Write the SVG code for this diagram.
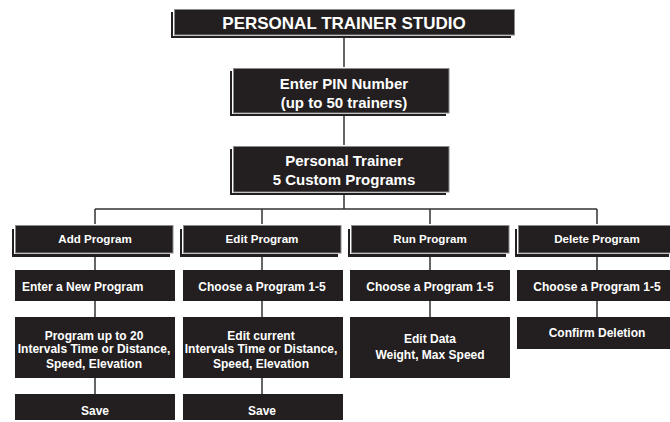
<svg xmlns="http://www.w3.org/2000/svg" width="670" height="422" viewBox="0 0 670 422">
<style>
.bx{fill:#231f20}
.fr{fill:#231f20;stroke:#8a8a8a;stroke-width:1}
.gap{fill:#ffffff}
.sh{fill:#231f20}
text{font-family:"Liberation Sans",Arial,sans-serif;font-weight:bold;fill:#ffffff;text-anchor:middle}
.t17{font-size:17px}
.t15{font-size:15px}
.t12{font-size:12px}
.t11{font-size:11.6px}
.ln{stroke:#333;stroke-width:1.5;fill:none}
</style>
<rect width="670" height="422" fill="#ffffff"/>
<g id="connectors">
<path class="ln" d="M344 35V68M344 113V146M344 192V209M95 209H597M95 209V225M262 209V225M430 209V225M597 209V225"/>
<path class="ln" d="M95 253V270M262 253V270M430 253V270M597 253V270M95 301V317M262 301V317M430 301V317M597 301V317M95 378V394M262 378V394"/>
</g>
<g id="studio">
<rect class="sh" x="171" y="12" width="340" height="26"/>
<rect class="gap" x="173" y="8" width="342" height="28"/>
<rect class="fr" x="174.5" y="9.5" width="340" height="25.5"/>
<text class="t17" x="344" y="28.5">PERSONAL TRAINER STUDIO</text>
</g>
<g id="pin">
<rect class="sh" x="230" y="71" width="216" height="45"/>
<rect class="gap" x="232" y="67" width="218" height="47"/>
<rect class="fr" x="233.5" y="68.5" width="215.5" height="44.5"/>
<text class="t15" x="344" y="88.5">Enter PIN Number</text>
<text class="t15" x="344" y="107.5">(up to 50 trainers)</text>
</g>
<g id="trainer">
<rect class="sh" x="230" y="149" width="216" height="46"/>
<rect class="gap" x="232" y="145" width="218" height="48"/>
<rect class="fr" x="233.5" y="146.5" width="215.5" height="45.5"/>
<text class="t15" x="344" y="165.5">Personal Trainer</text>
<text class="t15" x="344" y="184.5">5 Custom Programs</text>
</g>
<g id="add">
<rect class="sh" x="12" y="229" width="158" height="28"/>
<rect class="gap" x="14" y="224" width="160" height="30"/>
<rect class="fr" x="15.5" y="225.5" width="157.5" height="27.5"/>
<text class="t11" x="95" y="243">Add Program</text>
</g>
<g id="edit">
<rect class="sh" x="180" y="229" width="158" height="28"/>
<rect class="gap" x="182" y="224" width="160" height="30"/>
<rect class="fr" x="183.5" y="225.5" width="157.5" height="27.5"/>
<text class="t11" x="262" y="243">Edit Program</text>
</g>
<g id="run">
<rect class="sh" x="348" y="229" width="158" height="28"/>
<rect class="gap" x="350" y="224" width="160" height="30"/>
<rect class="fr" x="351.5" y="225.5" width="157.5" height="27.5"/>
<text class="t11" x="430" y="243">Run Program</text>
</g>
<g id="delete">
<rect class="sh" x="515" y="229" width="154" height="28"/>
<rect class="gap" x="517" y="224" width="156" height="30"/>
<rect class="fr" x="518.5" y="225.5" width="153.5" height="27.5"/>
<text class="t11" x="597" y="243">Delete Program</text>
</g>
<g id="add-new">
<rect class="bx" x="15" y="270" width="160" height="31"/>
<text class="t12" x="22" y="291" style="text-anchor:start">Enter a New Program</text>
</g>
<g id="edit-choose">
<rect class="bx" x="183" y="270" width="160" height="31"/>
<text class="t12" x="262" y="291">Choose a Program 1-5</text>
</g>
<g id="run-choose">
<rect class="bx" x="350" y="270" width="160" height="31"/>
<text class="t12" x="430" y="291">Choose a Program 1-5</text>
</g>
<g id="delete-choose">
<rect class="bx" x="517" y="270" width="160" height="31"/>
<text class="t12" x="597" y="291">Choose a Program 1-5</text>
</g>
<g id="add-intervals">
<rect class="bx" x="15" y="317" width="160" height="61"/>
<text class="t12" x="94" y="339.5">Program up to 20</text>
<text class="t12" x="94" y="353">Intervals Time or Distance,</text>
<text class="t12" x="94" y="367.5">Speed, Elevation</text>
</g>
<g id="edit-intervals">
<rect class="bx" x="183" y="317" width="160" height="61"/>
<text class="t12" x="261" y="339.5">Edit current</text>
<text class="t12" x="261" y="353">Intervals Time or Distance,</text>
<text class="t12" x="261" y="367.5">Speed, Elevation</text>
</g>
<g id="run-data">
<rect class="bx" x="350" y="317" width="160" height="61"/>
<text class="t12" x="430" y="343">Edit Data</text>
<text class="t12" x="430" y="359">Weight, Max Speed</text>
</g>
<g id="delete-confirm">
<rect class="bx" x="517" y="317" width="160" height="32"/>
<text class="t12" x="597" y="337">Confirm Deletion</text>
</g>
<g id="add-save">
<rect class="bx" x="15" y="394" width="160" height="26"/>
<text class="t12" x="95" y="415">Save</text>
</g>
<g id="edit-save">
<rect class="bx" x="183" y="394" width="160" height="26"/>
<text class="t12" x="262" y="415">Save</text>
</g>
</svg>
